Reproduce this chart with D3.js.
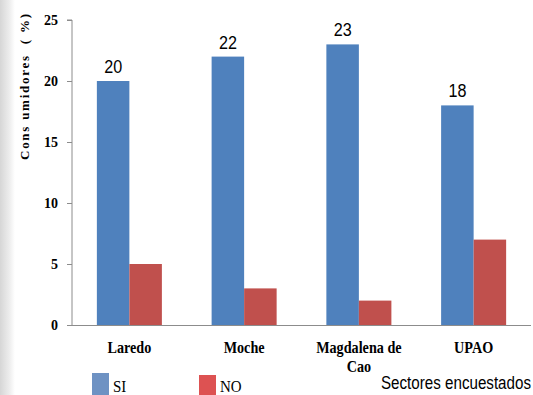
<!DOCTYPE html>
<html><head><meta charset="utf-8">
<script src="https://cdn.jsdelivr.net/npm/d3@7"></script>
<style>body{margin:0;background:#fff}svg{display:block}
.serif{font-family:"Liberation Serif","DejaVu Serif",serif}
.sans{font-family:"Liberation Sans","DejaVu Sans Condensed",sans-serif}
</style>
</head><body>
<script>
const categories = ["Laredo", "Moche", "Magdalena de Cao", "UPAO"];
const categoryLines = [["Laredo"], ["Moche"], ["Magdalena de", "Cao"], ["UPAO"]];
const seriesNames = ["SI", "NO"];
const siValues = [20, 22, 23, 18];
const noValues = [5, 3, 2, 7];
const yTicks = [0, 5, 10, 15, 20, 25];

const W = 533, H = 395;
const svg = d3.select("body").append("svg").attr("width", W).attr("height", H);

// faint textured left edge
const defs = svg.append("defs");
const g1 = defs.append("linearGradient").attr("id", "edge").attr("x1", 0).attr("x2", 1);
g1.append("stop").attr("offset", 0).attr("stop-color", "#d6d6d6");
g1.append("stop").attr("offset", 0.6).attr("stop-color", "#ececec");
g1.append("stop").attr("offset", 1).attr("stop-color", "#fff");
svg.append("rect").attr("x", 0).attr("y", 0).attr("width", 15).attr("height", H).attr("fill", "url(#edge)");

const pLeft = 72, pRight = 531, pTop = 20, pBottom = 325;
const x0 = d3.scaleBand().domain(categories).range([pLeft, pRight]).padding(0);
const x1 = d3.scaleBand().domain(seriesNames).range([0, x0.bandwidth()]).paddingInner(0).paddingOuter(0.765);
const y = d3.scaleLinear().domain([0, 25]).range([pBottom, pTop]);
const colors = {SI: "#4F81BD", NO: "#C0504D"};
const legendColors = {SI: "#6E92C3", NO: "#DD5252"};

const data = categories.map((c, i) => ({cat: c, SI: siValues[i], NO: noValues[i]}));

// bars
const groups = svg.append("g").selectAll("g").data(data).join("g")
  .attr("transform", d => `translate(${x0(d.cat)},0)`);
groups.selectAll("rect").data(d => seriesNames.map(s => ({s, v: d[s]}))).join("rect")
  .attr("x", d => x1(d.s)).attr("width", x1.bandwidth())
  .attr("y", d => y(d.v)).attr("height", d => y(0) - y(d.v))
  .attr("fill", d => colors[d.s]);

// value labels on SI bars (slightly condensed)
groups.append("text").attr("class", "sans")
  .attr("transform", d => `translate(${x1("SI") + x1.bandwidth() / 2},${y(d.SI) - 8}) scale(0.85,1)`)
  .attr("text-anchor", "middle")
  .attr("font-size", 19).attr("fill", "#000")
  .text(d => d.SI);

// y axis
const yAxis = svg.append("g").attr("transform", `translate(${pLeft},0)`)
  .call(d3.axisLeft(y).tickValues(yTicks).tickSize(5).tickPadding(9));
yAxis.attr("font-family", null);
yAxis.select(".domain").attr("stroke", "#8c8c8c").attr("d", `M-5,${pTop}H0V${pBottom}`);
yAxis.selectAll(".tick line").attr("stroke", "#8c8c8c");
yAxis.selectAll(".tick text").attr("class", "serif")
  .attr("font-weight", "bold").attr("font-size", 14).attr("fill", "#000")
  .attr("dy", "0.35em");

// x axis line
svg.append("line").attr("x1", pLeft).attr("x2", pRight).attr("y1", pBottom + 0.5).attr("y2", pBottom + 0.5)
  .attr("stroke", "#8c8c8c");

// category labels (tall, condensed bold serif)
const catLabels = svg.append("g").selectAll("text").data(categories).join("text")
  .attr("class", "serif")
  .attr("transform", d => `translate(${x0(d) + x0.bandwidth() / 2},353) scale(0.86,1)`)
  .attr("text-anchor", "middle")
  .attr("font-weight", "bold").attr("font-size", 16.5).attr("fill", "#000");
catLabels.each(function(d, i) {
  const t = d3.select(this);
  categoryLines[i].forEach((line, j) => {
    t.append("tspan").attr("x", 0).attr("dy", j === 0 ? 0 : 19).text(line);
  });
});

// y title
svg.append("text").attr("class", "serif")
  .attr("transform", "translate(29,87) rotate(-90)")
  .attr("text-anchor", "middle")
  .attr("font-weight", "bold").attr("font-size", 13).attr("fill", "#000")
  .attr("textLength", 146).attr("lengthAdjust", "spacing")
  .style("white-space", "pre")
  .text("Cons umidores  ( %)");

// legend
const legendX = {SI: 92, NO: 199};
const leg = svg.append("g").selectAll("g").data(seriesNames).join("g");
leg.append("rect").attr("x", d => legendX[d]).attr("y", d => d === "SI" ? 373 : 375)
  .attr("width", 17).attr("height", 24).attr("fill", d => legendColors[d]);
leg.append("text").attr("class", "serif")
  .attr("transform", d => `translate(${legendX[d] + 21},${d === "SI" ? 391.5 : 391.5}) scale(0.88,1)`)
  .attr("font-size", 17).attr("fill", "#000")
  .text(d => d);

svg.append("text").attr("class", "sans")
  .attr("transform", "translate(531,389) scale(0.82,1)")
  .attr("text-anchor", "end")
  .attr("font-size", 18.5).attr("fill", "#000")
  .text("Sectores encuestados");
</script>
</body></html>
